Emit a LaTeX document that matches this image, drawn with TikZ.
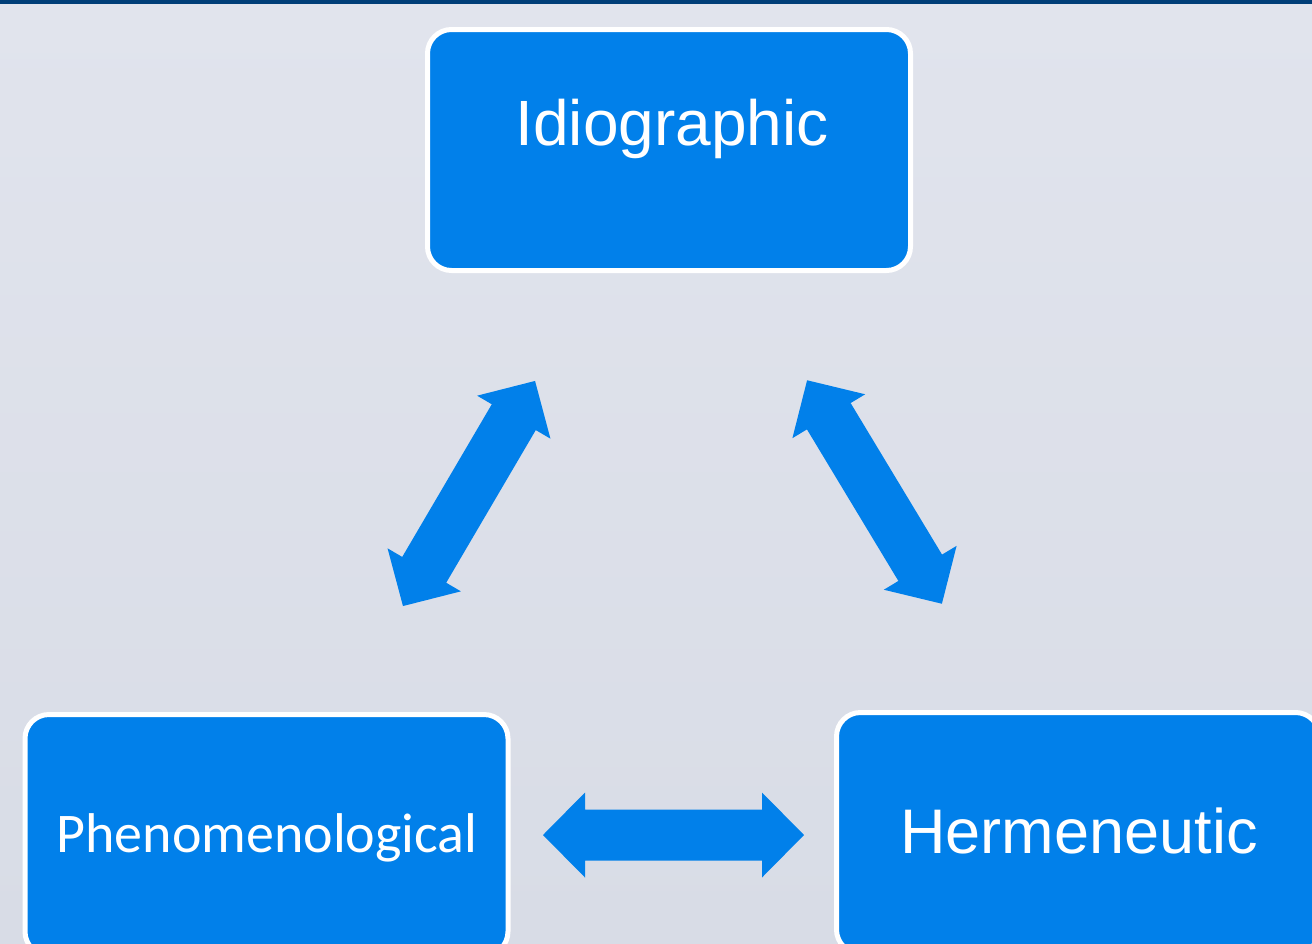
\documentclass[tikz,border=0pt]{standalone}
\usepackage{fontspec}
\setmainfont{Liberation Sans}
\newfontfamily\calibrifont{Carlito}
\definecolor{boxblue}{RGB}{1,128,234}
\definecolor{bgtop}{RGB}{225,228,237}
\definecolor{bgbot}{RGB}{216,220,230}
\definecolor{bandblue}{RGB}{0,62,120}
\newcommand\blockarr[4]{%
  \begin{scope}[shift={(#1,#2)}, rotate=#3]
    \fill[arrowfill] (-#4,0) -- ({-#4+42},-42.5) -- ({-#4+42},-25.5) -- ({#4-42},-25.5) -- ({#4-42},-42.5) -- (#4,0)
      -- ({#4-42},42.5) -- ({#4-42},25.5) -- ({-#4+42},25.5) -- ({-#4+42},42.5) -- cycle;
  \end{scope}}
\begin{document}
\begin{tikzpicture}[x=1pt,y=-1pt,
  box/.style={draw=white, line width=5pt, fill=boxblue, rounded corners=24pt,
    minimum width=483pt, minimum height=241pt, inner sep=0pt},
  lbl/.style={text=white, anchor=base, inner sep=0pt, font=\fontsize{64}{70}\selectfont},
  lblc/.style={text=white, anchor=base, inner sep=0pt, font=\calibrifont\fontsize{56}{62}\selectfont},
  arrowfill/.style={fill=boxblue}]
\useasboundingbox (0,0) rectangle (1312,943);
\clip (0,0) rectangle (1312,943);
\shade[top color=bgtop, bottom color=bgbot] (0,0) rectangle (1312,943);
\fill[bandblue] (0,0) rectangle (1312,4);
\node[box] (idio) at (669,150) {};
\node[box] (phen) at (266.5,835) {};
\node[box] (herm) at (1078,833) {};
\node[lbl] (idiot) at (672,145) {Idiographic};
\node[lblc] (phent) at (267,852) {Phenomenological};
\node[lbl, font=\fontsize{63}{70}\selectfont] (hermt) at (1079,853) {Hermeneutic};
\blockarr{469}{493.5}{59.6}{130.5}
\blockarr{874.5}{492}{-58.9}{130.5}
\blockarr{673.5}{835}{0}{130.5}
\end{tikzpicture}
\end{document}
